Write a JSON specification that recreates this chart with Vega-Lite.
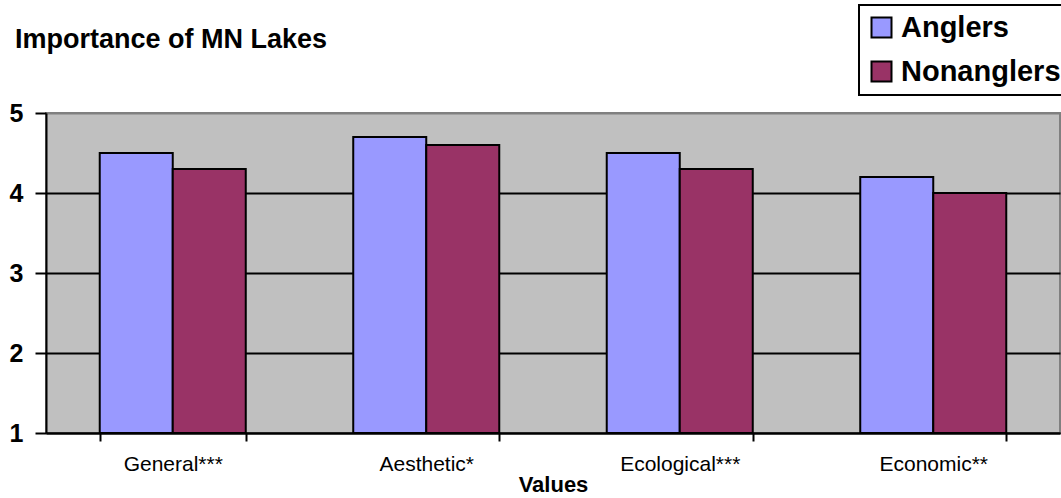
{
  "$schema": "https://vega.github.io/schema/vega-lite/v6.json",
  "autosize": {"type": "none"},
  "padding": {"left": 46, "top": 113, "right": 1, "bottom": 65},
  "width": 1014,
  "height": 320,
  "background": "white",
  "title": {
    "text": "Importance of MN Lakes",
    "anchor": "start",
    "frame": "group",
    "orient": "top",
    "dx": -31,
    "offset": -71,
    "baseline": "alphabetic",
    "font": "Liberation Sans",
    "fontSize": 27,
    "fontWeight": "bold",
    "color": "black"
  },
  "data": {
    "values": [
      {"category": "General***", "group": "Anglers", "value": 4.5},
      {"category": "General***", "group": "Nonanglers", "value": 4.3},
      {"category": "Aesthetic*", "group": "Anglers", "value": 4.7},
      {"category": "Aesthetic*", "group": "Nonanglers", "value": 4.6},
      {"category": "Ecological***", "group": "Anglers", "value": 4.5},
      {"category": "Ecological***", "group": "Nonanglers", "value": 4.3},
      {"category": "Economic**", "group": "Anglers", "value": 4.2},
      {"category": "Economic**", "group": "Nonanglers", "value": 4.0}
    ]
  },
  "mark": {"type": "bar", "stroke": "black", "strokeWidth": 2, "opacity": 1},
  "encoding": {
    "x": {
      "field": "category",
      "type": "nominal",
      "sort": null,
      "scale": {"paddingInner": 0.424, "paddingOuter": 0.212},
      "axis": {
        "title": "Values",
        "labelAngle": 0,
        "labelFont": "Liberation Sans",
        "labelFontSize": 21,
        "labelColor": "black",
        "labelPadding": 12,
        "tickBand": "extent",
        "tickSize": 8,
        "tickWidth": 2,
        "tickColor": "black",
        "domainColor": "black",
        "domainWidth": 2,
        "titleFont": "Liberation Sans",
        "titleFontSize": 22,
        "titleFontWeight": "bold",
        "titleColor": "black",
        "titleBaseline": "alphabetic",
        "titleY": 58,
        "grid": false
      }
    },
    "xOffset": {"field": "group", "type": "nominal"},
    "y": {
      "field": "value",
      "type": "quantitative",
      "scale": {"domain": [1, 5], "nice": false, "zero": false},
      "axis": {
        "title": null,
        "values": [1, 2, 3, 4, 5],
        "format": "d",
        "labelFont": "Liberation Sans",
        "labelFontSize": 25,
        "labelFontWeight": "bold",
        "labelColor": "black",
        "labelPadding": 12,
        "tickSize": 11,
        "tickWidth": 2,
        "tickColor": "black",
        "domainColor": "black",
        "domainWidth": 2,
        "grid": true,
        "gridWidth": 2,
        "gridOpacity": 1,
        "gridColor": {"condition": {"test": "datum.value == 5", "value": "#808080"}, "value": "black"}
      }
    },
    "y2": {"datum": 1},
    "color": {
      "field": "group",
      "type": "nominal",
      "scale": {"domain": ["Anglers", "Nonanglers"], "range": ["#9999FF", "#993366"]},
      "legend": {
        "title": null,
        "orient": "none",
        "legendX": 813,
        "legendY": -108,
        "padding": 8,
        "strokeColor": "black",
        "fillColor": "white",
        "symbolType": "square",
        "symbolSize": 400,
        "symbolStrokeColor": "black",
        "symbolStrokeWidth": 2,
        "symbolOpacity": 1,
        "labelFont": "Liberation Sans",
        "labelFontSize": 29,
        "labelFontWeight": "bold",
        "labelColor": "black",
        "labelOffset": 5,
        "rowPadding": 14,
        "labelLimit": 400,
        "encode": {"legend": {"update": {"strokeWidth": {"value": 2}}}}
      }
    }
  },
  "config": {
    "view": {"fill": "#C0C0C0", "stroke": "#808080", "strokeWidth": 2}
  }
}
